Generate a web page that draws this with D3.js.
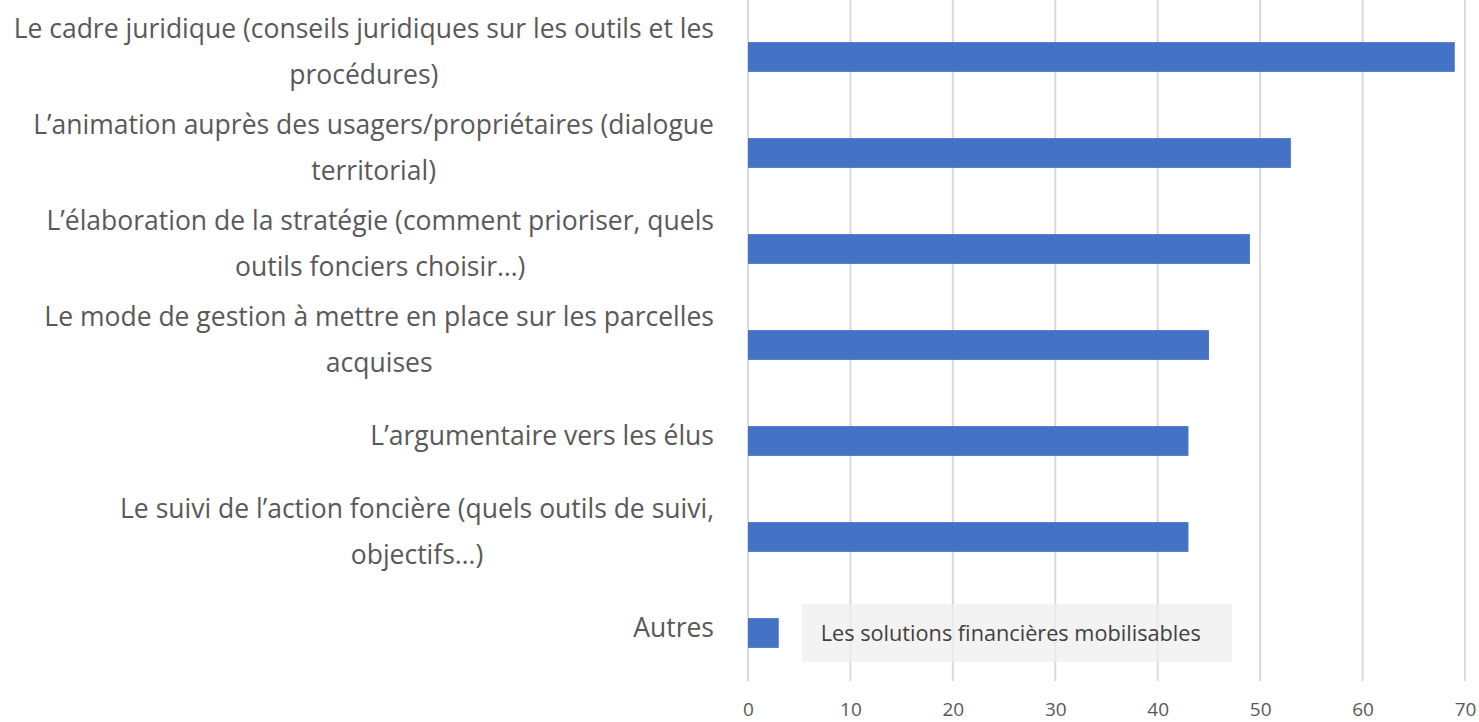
<!DOCTYPE html>
<html>
<head>
<meta charset="utf-8">
<script src="https://cdn.jsdelivr.net/npm/d3@7"></script>
<style>
  body { margin: 0; background: #fff; }
  text { font-family: "Open Sans", "Noto Sans", sans-serif; }
</style>
</head>
<body>
<div id="chart"></div>
<script>
// categories, top to bottom (line breaks as in the original)
const categories = [
    "Le cadre juridique (conseils juridiques sur les outils et les\nprocédures)",
    "L’animation auprès des usagers/propriétaires (dialogue\nterritorial)",
    "L’élaboration de la stratégie (comment prioriser, quels\noutils fonciers choisir…)",
    "Le mode de gestion à mettre en place sur les parcelles\nacquises",
    "L’argumentaire vers les élus",
    "Le suivi de l’action foncière (quels outils de suivi,\nobjectifs…)",
    "Autres"
];
const values = [69, 53, 49, 45, 43, 43, 3];
const xTicks = [0, 10, 20, 30, 40, 50, 60, 70];
const noteText = "Les solutions financières mobilisables";

const W = 1479, H = 722;
const margin = { top: 9, right: 14, bottom: 41, left: 748 };
const width = W - margin.left - margin.right;
const height = H - margin.top - margin.bottom;

const svg = d3.select("#chart")
    .append("svg")
    .attr("width", W)
    .attr("height", H);

const g = svg.append("g")
    .attr("transform", `translate(${margin.left},${margin.top})`);

const x = d3.scaleLinear()
    .domain([0, 70])
    .range([0, 717]);

const y = d3.scaleBand()
    .domain(categories)
    .range([0, height])
    .paddingInner(0.69)
    .paddingOuter(0.345);

// vertical gridlines
g.append("g")
    .selectAll("line")
    .data(xTicks)
    .join("line")
    .attr("x1", d => x(d))
    .attr("x2", d => x(d))
    .attr("y1", -margin.top)
    .attr("y2", height)
    .attr("stroke", "#d9d9d9")
    .attr("stroke-width", 2);

// bars
g.append("g")
    .selectAll("rect")
    .data(categories)
    .join("rect")
    .attr("x", x(0))
    .attr("y", d => y(d))
    .attr("width", (d, i) => x(values[i]) - x(0))
    .attr("height", y.bandwidth())
    .attr("fill", "#4472c4");

// x axis labels
const xAxis = d3.axisBottom(x)
    .tickValues(xTicks)
    .tickSize(0)
    .tickPadding(22);

const ax = g.append("g")
    .attr("transform", `translate(0,${height})`)
    .call(xAxis);
ax.select(".domain").remove();
ax.selectAll("text")
    .attr("fill", "#595959")
    .attr("font-size", "19px")
    .style("font-family", "'Open Sans', sans-serif");

// category labels: each block is centred text, block right edge at -34
const lineH = 46;
const labelRight = -34;
g.append("g")
    .selectAll("text")
    .data(categories)
    .join("text")
    .attr("text-anchor", "middle")
    .attr("fill", "#595959")
    .attr("font-size", "26.5px")
    .each(function (d) {
        const lines = d.split("\n");
        const cy = y(d) + y.bandwidth() / 2 - 5;
        const t = d3.select(this);
        const spans = lines.map((ln, k) => t.append("tspan")
            .attr("y", cy + (k - (lines.length - 1) / 2) * lineH)
            .attr("dy", "0.35em")
            .text(ln));
        const maxW = d3.max(spans, s => s.node().getComputedTextLength());
        spans.forEach(s => s.attr("x", labelRight - maxW / 2));
    });

// note box overlapping the "Autres" row
const last = categories[categories.length - 1];
const note = g.append("g");
note.append("rect")
    .attr("x", x(5.25))
    .attr("y", y(last) + y.bandwidth() / 2 - 29)
    .attr("width", x(47.25) - x(5.25))
    .attr("height", 58)
    .attr("fill", "#eeeeee")
    .attr("fill-opacity", 0.72);
note.append("text")
    .attr("x", x(7.1))
    .attr("y", y(last) + y.bandwidth() / 2)
    .attr("dy", "0.35em")
    .attr("fill", "#404040")
    .attr("font-size", "21.7px")
    .text(noteText);
</script>
</body>
</html>
